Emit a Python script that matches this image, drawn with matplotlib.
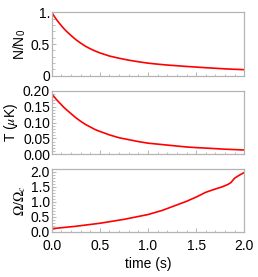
import matplotlib
matplotlib.use("Agg")
import matplotlib.pyplot as plt
from matplotlib.ticker import MultipleLocator, FixedLocator

plt.rcParams['font.family'] = ['Liberation Sans', 'DejaVu Sans']
plt.rcParams['mathtext.fontset'] = 'stix'

# data
t_N = [0.0, 0.025, 0.05, 0.075, 0.1, 0.125, 0.15, 0.2, 0.25, 0.3, 0.35, 0.4, 0.45, 0.5, 0.6, 0.7, 0.8, 0.9, 1.0, 1.1, 1.2, 1.3, 1.4, 1.5, 1.6, 1.7, 1.8, 1.9, 2.0]
N_ratio = [1.0, 0.94, 0.885, 0.835, 0.79, 0.745, 0.705, 0.635, 0.57, 0.515, 0.465, 0.425, 0.39, 0.36, 0.31, 0.275, 0.245, 0.22, 0.198, 0.182, 0.168, 0.157, 0.146, 0.136, 0.126, 0.117, 0.108, 0.101, 0.095]

t_T = [0.0, 0.025, 0.05, 0.075, 0.1, 0.125, 0.15, 0.2, 0.25, 0.3, 0.35, 0.4, 0.45, 0.5, 0.6, 0.7, 0.8, 0.9, 1.0, 1.1, 1.2, 1.3, 1.4, 1.5, 1.6, 1.7, 1.8, 1.9, 2.0]
T_uK = [0.190, 0.181, 0.172, 0.164, 0.156, 0.148, 0.141, 0.128, 0.115, 0.104, 0.094, 0.086, 0.078, 0.072, 0.061, 0.052, 0.046, 0.040, 0.035, 0.032, 0.029, 0.026, 0.023, 0.021, 0.0195, 0.0178, 0.016, 0.0148, 0.0135]

t_W = [0.0, 0.25, 0.5, 0.75, 1.0, 1.15, 1.3, 1.4, 1.5, 1.6, 1.7, 1.77, 1.83, 1.86, 1.9, 1.95, 2.0]
W_ratio = [0.10, 0.18, 0.28, 0.41, 0.57, 0.71, 0.89, 1.01, 1.15, 1.31, 1.42, 1.49, 1.57, 1.63, 1.78, 1.88, 1.97]

xticks = [0.0, 0.5, 1.0, 1.5, 2.0]
xticklabels = ['0.0', '0.5', '1.0', '1.5', '2.0']

fig = plt.figure(figsize=(2.58, 2.77), dpi=100)
W, H = 258, 277
left, right = 51.7, 244.3
panels = [(12.3, 75.7), (90.7, 154.3), (168.5, 231.7)]
axes = []
for top, bot in panels:
    ax = fig.add_axes([left / W, 1 - bot / H, (right - left) / W, (bot - top) / H])
    axes.append(ax)

frame_col = '#b4b4b4'
fs = 10
for ax in axes:
    for s in ax.spines.values():
        s.set_color(frame_col)
        s.set_linewidth(0.9)
    ax.set_xlim(0, 2)
    ax.xaxis.set_major_locator(FixedLocator(xticks))
    ax.xaxis.set_minor_locator(MultipleLocator(0.1))
    ax.tick_params(which='both', direction='in', color=frame_col, labelsize=fs,
                   top=False, right=False, pad=1.2)
    ax.tick_params(which='major', length=3, width=0.7)
    ax.tick_params(which='minor', length=1.8, width=0.6)

ax1, ax2, ax3 = axes
red = '#ff0000'

ax1.plot(t_N, N_ratio, color=red, lw=1.2)
ax1.set_ylim(0, 1)
ax1.set_yticks([0, 0.5, 1.0])
ax1.set_yticklabels(['0', '0.5', '1.'])
ax1.yaxis.set_minor_locator(MultipleLocator(0.1))
ax1.set_xticklabels([])
ax1.set_ylabel(r'N/N$_\mathregular{0}$', fontsize=fs, labelpad=2)

ax2.plot(t_T, T_uK, color=red, lw=1.2)
ax2.set_ylim(0, 0.2)
ax2.set_yticks([0.0, 0.05, 0.10, 0.15, 0.20])
ax2.set_yticklabels(['0.00', '0.05', '0.10', '0.15', '0.20'])
ax2.yaxis.set_minor_locator(MultipleLocator(0.01))
ax2.set_xticklabels([])
ax2.set_ylabel(r'T ($\mu$K)', fontsize=fs, labelpad=2)

ax3.plot(t_W, W_ratio, color=red, lw=1.2)
ax3.set_ylim(0, 2.1)
ax3.set_yticks([0.0, 0.5, 1.0, 1.5, 2.0])
ax3.set_yticklabels(['0.0', '0.5', '1.0', '1.5', '2.0'])
ax3.yaxis.set_minor_locator(MultipleLocator(0.1))
ax3.set_xticklabels(xticklabels)
ax3.tick_params(axis='x', pad=5)
ax3.set_ylabel(r'$\Omega/\Omega_c$', fontsize=fs, labelpad=2)
ax3.set_xlabel('time (s)', fontsize=fs, labelpad=3)

fig.savefig('out.png', dpi=100)
